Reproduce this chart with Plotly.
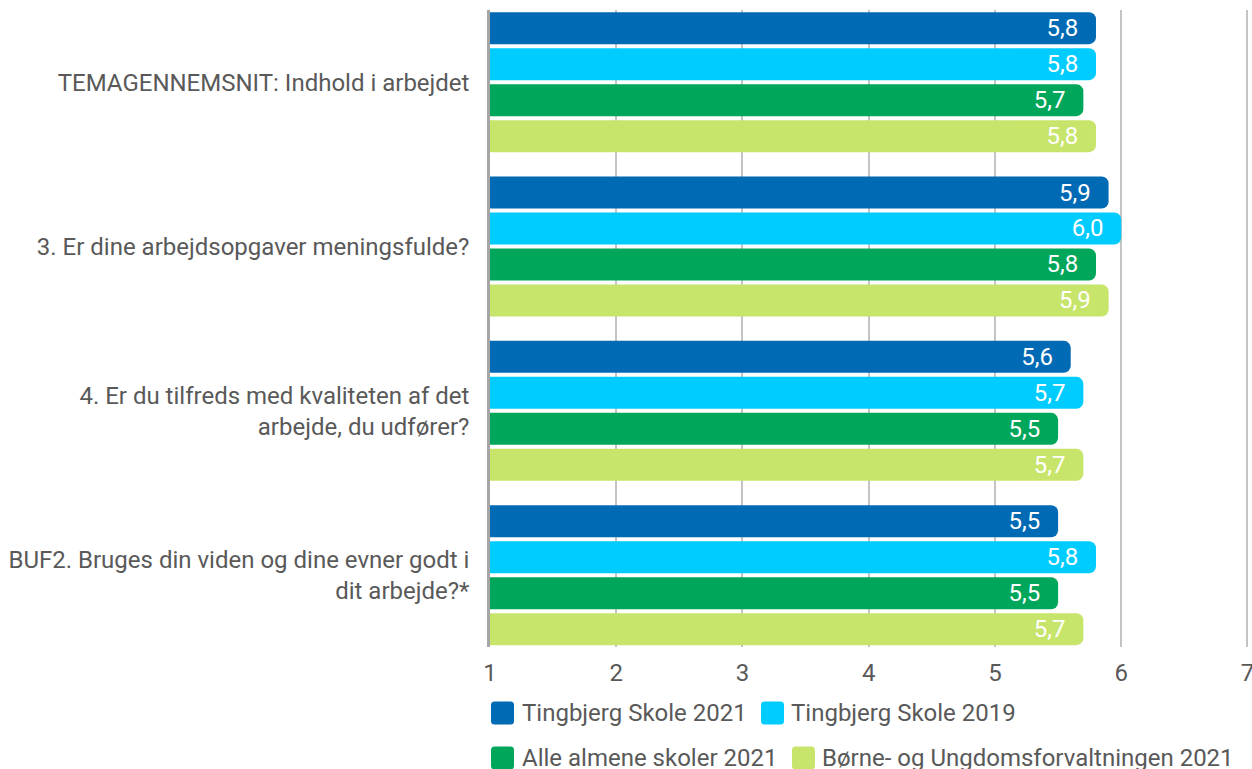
import plotly.graph_objects as go

categories = [
    "TEMAGENNEMSNIT: Indhold i arbejdet",
    "3. Er dine arbejdsopgaver meningsfulde?",
    "4. Er du tilfreds med kvaliteten af det<br>arbejde, du udfører?",
    "BUF2. Bruges din viden og dine evner godt i<br>dit arbejde?*",
]
series_names = [
    "Tingbjerg Skole 2021",
    "Tingbjerg Skole 2019",
    "Alle almene skoler 2021",
    "Børne- og Ungdomsforvaltningen 2021",
]
tingbjerg_2021 = [5.8, 5.9, 5.6, 5.5]
tingbjerg_2019 = [5.8, 6.0, 5.7, 5.8]
alle_almene_2021 = [5.7, 5.8, 5.5, 5.5]
buf_2021 = [5.8, 5.9, 5.7, 5.7]
series_values = [tingbjerg_2021, tingbjerg_2019, alle_almene_2021, buf_2021]
colors = ["#006AB4", "#00CCFF", "#00A65A", "#C7E56A"]
x_ticks = [1, 2, 3, 4, 5, 6, 7]

FONT = "Roboto"
TXT = "#595959"
FS = 24

W, H = 1252, 769
L, R, T, B = 490, 2, 10, 122
PW = W - L - R
PH = H - T - B

fig = go.Figure()
for name, vals, col in zip(series_names, series_values, colors):
    fig.add_trace(go.Bar(
        y=categories, x=vals, name=name, orientation="h",
        marker=dict(color=col, cornerradius=7, line=dict(width=0)),
        texttemplate="%{x:.1f}\u00a0\u2009",
        textposition="inside", insidetextanchor="end",
        textfont=dict(family=FONT, size=FS, color="white"),
        showlegend=False,
    ))


def px2paper_x(px):
    return (px - L) / PW


def px2paper_y(py):
    return (H - B - py) / PH


# custom legend (two rows), positions in pixels
legend_pos = [(491, 521, 713), (761, 790, 713), (491, 521, 758), (792, 821, 758)]
shapes = []
annotations = []
sw = 23
r = 3.5
swatch_path = (f"M {r},0 L {sw-r},0 Q {sw},0 {sw},{-r} L {sw},{-(sw-r)} Q {sw},{-sw} {sw-r},{-sw} "
               f"L {r},{-sw} Q 0,{-sw} 0,{-(sw-r)} L 0,{-r} Q 0,0 {r},0 Z")
for (sx, tx, cy), name, col in zip(legend_pos, series_names, colors):
    shapes.append(dict(
        type="path", xref="paper", yref="paper",
        xsizemode="pixel", ysizemode="pixel",
        xanchor=px2paper_x(sx), yanchor=px2paper_y(cy - sw / 2),
        path=swatch_path,
        fillcolor=col, line=dict(width=0), layer="above",
    ))
    annotations.append(dict(
        text=name, xref="paper", yref="paper",
        x=px2paper_x(tx), y=px2paper_y(cy), xanchor="left", yanchor="middle",
        showarrow=False, font=dict(family=FONT, size=FS, color=TXT),
        borderpad=0,
    ))

fig.update_layout(
    width=W, height=H,
    margin=dict(l=L, r=R, t=T, b=B, autoexpand=False),
    barmode="group", bargap=0.124, bargroupgap=0.111,
    plot_bgcolor="white", paper_bgcolor="white",
    separators=", ",
    font=dict(family=FONT, size=FS, color=TXT),
    uniformtext=dict(minsize=FS, mode="show"),
    shapes=shapes, annotations=annotations,
    xaxis=dict(
        range=[1, 7.02], tickvals=x_ticks, showgrid=True, gridcolor="#C4C4C4",
        gridwidth=1.5, zeroline=False, showline=False,
        tickfont=dict(family=FONT, size=FS, color=TXT),
        ticks="outside", ticklen=4, tickcolor="rgba(0,0,0,0)",
        ticklabeloverflow="allow",
        fixedrange=True,
    ),
    yaxis=dict(
        autorange=False, range=[3.437, -0.439],
        showgrid=False, zeroline=False,
        showline=True, linecolor="#A6A6A6", linewidth=2.5,
        ticks="", ticklabelstandoff=13,
        tickfont=dict(family=FONT, size=FS, color=TXT),
        fixedrange=True,
    ),
)

fig.write_html(
    "out.html",
    config={"displayModeBar": False},
    post_script="document.body.style.margin='0';document.body.style.overflow='hidden';",
)
